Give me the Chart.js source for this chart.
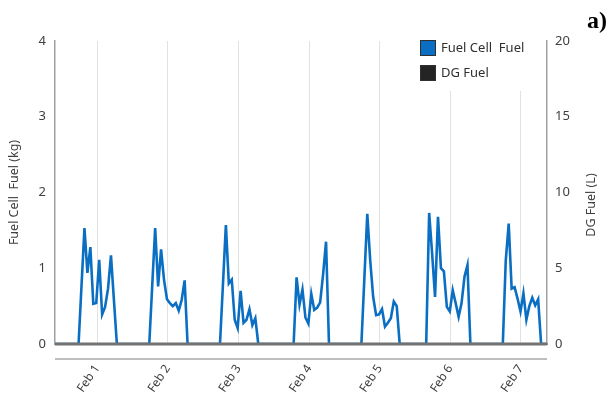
<!DOCTYPE html>
<html>
<head>
<meta charset="utf-8">
<script src="https://cdn.jsdelivr.net/npm/chart.js@4"></script>
<style>
  html, body { margin: 0; padding: 0; background: #fff; }
  #wrap { width: 610px; height: 405px; position: relative; }
</style>
</head>
<body>
<div id="wrap"><canvas id="c" width="610" height="405"></canvas></div>
<script>
// Hourly fuel-cell fuel use (kg), one array of 24 hours per day
const feb1 = [0,0,0,0,0,0,0,0,0,0.77,1.53,0.94,1.28,0.53,0.54,1.11,0.39,0.49,0.73,1.17,0.58,0,0,0];
const feb2 = [0,0,0,0,0,0,0,0,0,0.77,1.53,0.76,1.25,0.85,0.59,0.54,0.50,0.54,0.44,0.58,0.84,0,0,0];
const feb3 = [0,0,0,0,0,0,0,0,0,0.78,1.57,0.80,0.85,0.32,0.21,0.70,0.28,0.32,0.46,0.25,0.34,0,0,0];
const feb4 = [0,0,0,0,0,0,0,0,0,0,0.88,0.52,0.72,0.35,0.27,0.66,0.45,0.48,0.55,0.92,1.35,0,0,0];
const feb5 = [0,0,0,0,0,0,0,0,0,0.86,1.72,1.10,0.62,0.38,0.39,0.46,0.23,0.28,0.34,0.56,0.50,0,0,0];
const feb6 = [0,0,0,0,0,0,0,1.73,1.20,0.62,1.68,1.00,0.96,0.49,0.43,0.71,0.54,0.36,0.54,0.89,1.04,0,0,0];
const feb7 = [0,0,0,0,0,0,0,0,0,1.10,1.59,0.73,0.75,0.60,0.43,0.67,0.32,0.50,0.61,0.51,0.59,0,0,0];

// Hourly diesel-generator fuel use (L)
const dgFuel = [
  0,0,0,0,0,0,0,0,0,0,0,0,0,0,0,0,0,0,0,0,0,0,0,0,
  0,0,0,0,0,0,0,0,0,0,0,0,0,0,0,0,0,0,0,0,0,0,0,0,
  0,0,0,0,0,0,0,0,0,0,0,0,0,0,0,0,0,0,0,0,0,0,0,0,
  0,0,0,0,0,0,0,0,0,0,0,0,0,0,0,0,0,0,0,0,0,0,0,0,
  0,0,0,0,0,0,0,0,0,0,0,0,0,0,0,0,0,0,0,0,0,0,0,0,
  0,0,0,0,0,0,0,0,0,0,0,0,0,0,0,0,0,0,0,0,0,0,0,0,
  0,0,0,0,0,0,0,0,0,0,0,0,0,0,0,0,0,0,0,0,0,0,0,0
];

const fuelCellFuel = [].concat(feb1, feb2, feb3, feb4, feb5, feb6, feb7);
const hours = fuelCellFuel.map((_, i) => i);

// Day tick labels and the hour each one sits at
const dayLabels = ['Feb 1', 'Feb 2', 'Feb 3', 'Feb 4', 'Feb 5', 'Feb 6', 'Feb 7'];
const dayTickHours = [14.3, 38.3, 62.3, 86.3, 110.2, 134.2, 158.1];

const seriesNames = ['Fuel Cell  Fuel', 'DG Fuel'];
const seriesColors = ['#0a6fc2', '#242424'];

const FONT = "'Noto Sans', 'Open Sans', sans-serif";
const TEXT = '#404040';

const overlay = {
  id: 'overlay',
  afterDatasetsDraw(chart) {
    // zero line of the plot, drawn over the series
    const { ctx, chartArea: a } = chart;
    const y0 = chart.scales.yR.getPixelForValue(0);
    ctx.save();
    ctx.strokeStyle = '#727272';
    ctx.lineWidth = 3;
    ctx.beginPath();
    ctx.moveTo(a.left, y0);
    ctx.lineTo(a.right, y0);
    ctx.stroke();
    ctx.restore();
  },
  afterDraw(chart) {
    const { ctx, chartArea: a } = chart;
    ctx.save();

    // lower rule under the plot
    ctx.strokeStyle = '#a8a8a8';
    ctx.lineWidth = 1.5;
    ctx.beginPath();
    ctx.moveTo(a.left, a.bottom + 15);
    ctx.lineTo(a.right, a.bottom + 15);
    ctx.stroke();

    // legend panel
    ctx.fillStyle = '#ffffff';
    ctx.fillRect(412, a.top - 1, 132, 92 - a.top);
    ctx.font = '13px ' + FONT;
    ctx.textBaseline = 'middle';
    ctx.textAlign = 'left';
    seriesNames.forEach((name, i) => {
      const y = 40 + i * 25;
      ctx.fillStyle = seriesColors[i];
      ctx.fillRect(420, y, 16, 16);
      ctx.strokeStyle = '#303030';
      ctx.lineWidth = 1;
      ctx.strokeRect(420.5, y + 0.5, 15, 15);
      ctx.fillStyle = '#303030';
      ctx.fillText(name, 441, y + 8.5);
    });

    // right axis title
    ctx.save();
    ctx.translate(591, 205);
    ctx.rotate(-Math.PI / 2);
    ctx.textAlign = 'center';
    ctx.fillStyle = TEXT;
    ctx.font = '12.5px ' + FONT;
    ctx.fillText('DG Fuel (L)', 0, 0);
    ctx.restore();

    // panel tag
    ctx.font = "bold 24px 'Liberation Serif', 'DejaVu Serif', serif";
    ctx.fillStyle = '#000';
    ctx.textAlign = 'left';
    ctx.textBaseline = 'alphabetic';
    ctx.fillText('a)', 587, 28);

    ctx.restore();
  }
};

new Chart(document.getElementById('c'), {
  type: 'line',
  data: {
    labels: hours,
    datasets: [
      {
        label: seriesNames[0],
        data: fuelCellFuel,
        yAxisID: 'yL',
        borderColor: seriesColors[0],
        backgroundColor: seriesColors[0],
        borderWidth: 2.6,
        pointRadius: 0,
        tension: 0
      },
      {
        label: seriesNames[1],
        data: dgFuel,
        yAxisID: 'yR',
        borderColor: '#727272',
        backgroundColor: seriesColors[1],
        borderWidth: 2,
        pointRadius: 0
      }
    ]
  },
  options: {
    responsive: false,
    animation: false,
    devicePixelRatio: 1,
    layout: { padding: { top: 41, left: 0, right: 0, bottom: 0 } },
    plugins: {
      legend: { display: false },
      tooltip: { enabled: false }
    },
    scales: {
      x: {
        type: 'linear',
        min: 0,
        max: hours.length - 1,
        afterBuildTicks(scale) {
          scale.ticks = dayTickHours.map(v => ({ value: v }));
        },
        afterFit(scale) { scale.height = 61; },
        grid: { color: '#e2e2e2', lineWidth: 1, drawTicks: false },
        border: { display: true, color: '#767676', width: 2 },
        ticks: {
          autoSkip: false,
          minRotation: 56,
          maxRotation: 56,
          padding: 18,
          color: TEXT,
          font: { family: FONT, size: 12 },
          callback(value, index) { return dayLabels[index]; }
        }
      },
      yL: {
        position: 'left',
        min: 0,
        max: 4,
        afterFit(scale) { scale.width = 55; },
        ticks: { stepSize: 1, padding: 9, color: TEXT, font: { family: FONT, size: 13 } },
        grid: { display: false, drawTicks: false },
        border: { display: true, color: '#a0a0a0', width: 1.5 },
        title: {
          display: true,
          text: 'Fuel Cell  Fuel (kg)',
          color: TEXT,
          font: { family: FONT, size: 12.5 },
          padding: { top: 7, bottom: 0 }
        }
      },
      yR: {
        position: 'right',
        min: 0,
        max: 20,
        afterFit(scale) { scale.width = 63; },
        ticks: { stepSize: 5, padding: 8, color: TEXT, font: { family: FONT, size: 13 } },
        grid: { display: false, drawTicks: false },
        border: { display: true, color: '#a0a0a0', width: 1.5 }
      }
    }
  },
  plugins: [overlay]
});
</script>
</body>
</html>
